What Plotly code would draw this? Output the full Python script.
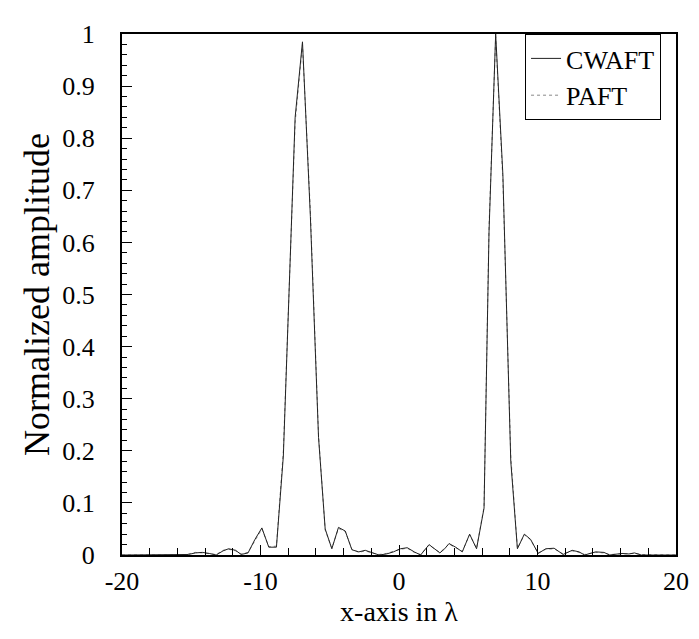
import plotly.graph_objects as go

# ---- data ----
cwaft_x = [-20.0, -17.0, -15.7, -15.2, -14.7, -14.2, -13.7, -13.2, -12.7, -12.3, -11.8, -11.4,
           -10.9, -10.4, -9.9, -9.4, -8.85, -8.35, -7.5, -6.97, -6.4, -5.81, -5.33, -4.85,
           -4.37, -3.88, -3.4, -2.9, -2.44, -1.98, -1.44, -0.9, -0.4, 0.1, 0.6, 1.1, 1.56,
           2.17, 2.6, 2.95, 3.3, 3.61, 4.09, 4.57, 5.1, 5.6, 6.14, 6.5, 6.98, 7.5, 8.07,
           8.55, 9.05, 9.5, 10.05, 10.6, 11.2, 11.85, 12.5, 13.0, 13.4, 14.2, 14.8, 15.2,
           16.1, 16.6, 17.0, 17.5, 20.0]
cwaft_y = [0.0, 0.0, 0.0, 0.001, 0.004, 0.005, 0.003, 0.0, 0.008, 0.012, 0.009, 0.001,
           0.004, 0.03, 0.052, 0.015, 0.015, 0.19, 0.84, 0.985, 0.65, 0.226, 0.05, 0.012,
           0.053, 0.046, 0.01, 0.006, 0.009, 0.005, 0.0, 0.002, 0.006, 0.012, 0.014, 0.006, 0.0,
           0.02, 0.012, 0.004, 0.012, 0.022, 0.015, 0.006, 0.04, 0.012, 0.09, 0.62, 1.0, 0.73, 0.18,
           0.012, 0.04, 0.03, 0.003, 0.012, 0.013, 0.001, 0.009, 0.006, 0.0, 0.006, 0.005, 0.0,
           0.003, 0.002, 0.004, 0.0, 0.0]

paft_x = cwaft_x
paft_y = [0.0, 0.0, 0.0, 0.002, 0.005, 0.004, 0.002, 0.001, 0.009, 0.011, 0.008, 0.002,
          0.005, 0.028, 0.05, 0.016, 0.017, 0.2, 0.83, 0.98, 0.66, 0.23, 0.048, 0.013,
          0.051, 0.045, 0.011, 0.005, 0.008, 0.004, 0.001, 0.003, 0.007, 0.011, 0.013, 0.005, 0.001,
          0.019, 0.011, 0.005, 0.013, 0.021, 0.014, 0.007, 0.039, 0.013, 0.092, 0.63, 0.995, 0.72, 0.19,
          0.013, 0.039, 0.029, 0.004, 0.011, 0.012, 0.002, 0.008, 0.005, 0.001, 0.005, 0.004, 0.001,
          0.002, 0.003, 0.003, 0.001, 0.0]

x_ticks = [-20, -10, 0, 10, 20]
x_tick_text = ["-20", "-10", "0", "10", "20"]
y_ticks = [0, 0.1, 0.2, 0.3, 0.4, 0.5, 0.6, 0.7, 0.8, 0.9, 1]
y_tick_text = ["0", "0.1", "0.2", "0.3", "0.4", "0.5", "0.6", "0.7", "0.8", "0.9", "1"]

FONT = "Liberation Serif"

fig = go.Figure()
fig.add_trace(go.Scatter(x=paft_x, y=paft_y, mode="lines", name="PAFT",
                         line=dict(color="#888888", width=1, dash="dot")))
fig.add_trace(go.Scatter(x=cwaft_x, y=cwaft_y, mode="lines", name="CWAFT",
                         line=dict(color="#222222", width=1)))

fig.update_layout(
    width=699, height=639,
    margin=dict(l=114, r=31, t=12, b=92),
    paper_bgcolor="white", plot_bgcolor="white",
    font=dict(family=FONT, color="black", size=26),
    legend=dict(x=0.973, y=1.0, xanchor="right", yanchor="top",
                bordercolor="black", borderwidth=1, bgcolor="white",
                font=dict(family=FONT, size=26), traceorder="reversed",
                itemwidth=30, tracegroupgap=0),
    xaxis=dict(range=[-20, 20], tickvals=x_ticks, ticktext=x_tick_text, ticks="inside", ticklen=10,
               tickcolor="black", showgrid=False, zeroline=False,
               showline=True, linecolor="black", linewidth=2, mirror=True,
               ticklabelstandoff=2,
               minor=dict(dtick=2, ticks="inside", ticklen=7, tickcolor="black"),
               title=dict(text="x-axis in λ", font=dict(family=FONT, size=28), standoff=4),
               tickfont=dict(family=FONT, size=26)),
    yaxis=dict(range=[0, 1], tickvals=y_ticks, ticktext=y_tick_text, ticks="inside",
               ticklen=10, tickcolor="black", showgrid=False, zeroline=False,
               showline=True, linecolor="black", linewidth=2, mirror=True,
               ticklabelstandoff=20,
               minor=dict(dtick=0.02, ticks="inside", ticklen=5, tickcolor="black"),
               title=dict(text="Normalized amplitude", font=dict(family=FONT, size=36), standoff=2),
               tickfont=dict(family=FONT, size=26)),
)

fig.write_html("out.html")
